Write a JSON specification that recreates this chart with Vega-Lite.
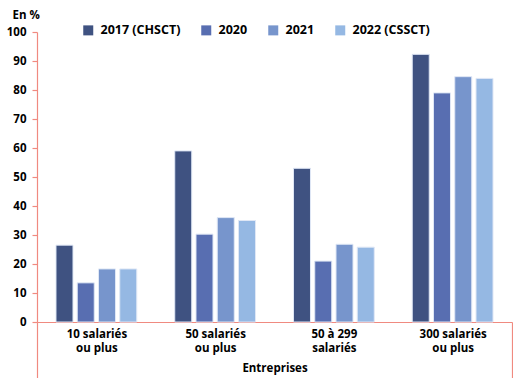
{
  "$schema": "https://vega.github.io/schema/vega-lite/v6.json",
  "width": 475,
  "height": 290,
  "autosize": "none",
  "padding": {"left": 37, "top": 32, "right": 1, "bottom": 56},
  "background": "white",
  "config": {
    "view": {"stroke": null},
    "font": "Open Sans"
  },
  "data": {
    "values": [
      {"cat": "10 salariés|ou plus", "serie": "2017 (CHSCT)", "v": 26.5},
      {"cat": "10 salariés|ou plus", "serie": "2020", "v": 13.5},
      {"cat": "10 salariés|ou plus", "serie": "2021", "v": 18.3},
      {"cat": "10 salariés|ou plus", "serie": "2022 (CSSCT)", "v": 18.3},
      {"cat": "50 salariés|ou plus", "serie": "2017 (CHSCT)", "v": 59},
      {"cat": "50 salariés|ou plus", "serie": "2020", "v": 30.3},
      {"cat": "50 salariés|ou plus", "serie": "2021", "v": 36},
      {"cat": "50 salariés|ou plus", "serie": "2022 (CSSCT)", "v": 35},
      {"cat": "50 à 299|salariés", "serie": "2017 (CHSCT)", "v": 53},
      {"cat": "50 à 299|salariés", "serie": "2020", "v": 21},
      {"cat": "50 à 299|salariés", "serie": "2021", "v": 26.8},
      {"cat": "50 à 299|salariés", "serie": "2022 (CSSCT)", "v": 25.8},
      {"cat": "300 salariés|ou plus", "serie": "2017 (CHSCT)", "v": 92.3},
      {"cat": "300 salariés|ou plus", "serie": "2020", "v": 79},
      {"cat": "300 salariés|ou plus", "serie": "2021", "v": 84.6},
      {"cat": "300 salariés|ou plus", "serie": "2022 (CSSCT)", "v": 84}
    ]
  },
  "mark": {"type": "bar", "stroke": "#dfe7f5", "strokeWidth": 1},
  "encoding": {
    "x": {
      "field": "cat",
      "type": "nominal",
      "sort": null,
      "scale": {"paddingInner": 0, "paddingOuter": 0},
      "axis": {
        "title": "Entreprises",
        "titleFont": "Open Sans",
        "titleFontSize": 11.5,
        "titleFontWeight": "bold",
        "titleColor": "black",
        "titleBaseline": "alphabetic",
        "titleY": 49,
        "labelExpr": "split(datum.label, '|')",
        "labelAngle": 0,
        "labelFont": "Open Sans",
        "labelFontSize": 11.5,
        "labelFontWeight": "bold",
        "labelColor": "black",
        "labelLineHeight": 14,
        "labelPadding": -50,
        "domainColor": "#f08a80",
        "domainWidth": 1.2,
        "tickBand": "extent",
        "tickColor": "#f08a80",
        "tickSize": 56,
        "tickWidth": 1.2,
        "tickOpacity": {"condition": {"test": "datum.index === 1 || datum.extra", "value": 1}, "value": 0}
      }
    },
    "xOffset": {
      "field": "serie",
      "sort": null,
      "scale": {"paddingInner": 0.2, "paddingOuter": 0.894}
    },
    "y": {
      "field": "v",
      "type": "quantitative",
      "scale": {"domain": [0, 100]},
      "axis": {
        "title": "En %",
        "titleAngle": 0,
        "titleAlign": "left",
        "titleBaseline": "alphabetic",
        "titleX": -25,
        "titleY": -14,
        "titleFont": "Open Sans",
        "titleFontSize": 11.5,
        "titleFontWeight": "bold",
        "titleColor": "black",
        "values": [0, 10, 20, 30, 40, 50, 60, 70, 80, 90, 100],
        "grid": false,
        "labelFont": "Open Sans",
        "labelFontSize": 11.5,
        "labelFontWeight": "bold",
        "labelColor": "black",
        "labelPadding": 6,
        "domainColor": "#f08a80",
        "domainWidth": 1.2,
        "tickColor": "#f08a80",
        "tickSize": 5,
        "tickWidth": 1.2
      }
    },
    "color": {
      "field": "serie",
      "type": "nominal",
      "sort": null,
      "scale": {
        "domain": ["2017 (CHSCT)", "2020", "2021", "2022 (CSSCT)"],
        "range": ["#3f5281", "#586eb1", "#7795cc", "#95b8e3"]
      },
      "legend": {
        "title": null,
        "orient": "none",
        "legendX": 45,
        "legendY": -8,
        "direction": "horizontal",
        "symbolType": "square",
        "symbolSize": 100,
        "symbolStrokeWidth": 0,
        "labelFont": "Open Sans",
        "labelFontSize": 12.5,
        "labelFontWeight": "bold",
        "labelColor": "black",
        "labelOffset": 6,
        "columnPadding": 19
      }
    }
  }
}
